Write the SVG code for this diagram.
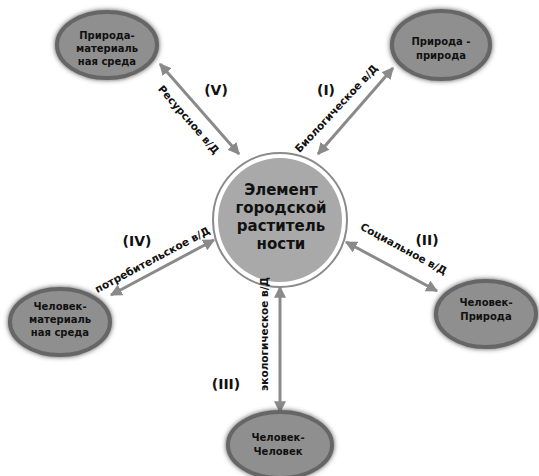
<svg xmlns="http://www.w3.org/2000/svg" width="539" height="476" viewBox="0 0 539 476">
<defs>
<filter id="glow" x="-30%" y="-30%" width="160%" height="160%">
<feGaussianBlur in="SourceAlpha" stdDeviation="2.5" result="b"/>
<feFlood flood-color="#404040" flood-opacity="0.9"/>
<feComposite in2="b" operator="in" result="s"/>
<feMerge><feMergeNode in="s"/><feMergeNode in="SourceGraphic"/></feMerge>
</filter>
<marker id="ah" viewBox="0 0 10 10" refX="9" refY="5" markerWidth="4" markerHeight="4" orient="auto-start-reverse" markerUnits="strokeWidth">
<path d="M0,0 L10,5 L0,10 z" fill="#8a8a8a"/>
</marker>
<style>
.node ellipse{fill:#8f8f8f;stroke:#666;stroke-width:4;filter:url(#glow)}
.nt{font-family:"DejaVu Sans",sans-serif;font-weight:bold;font-size:10px;fill:#111;text-anchor:middle}
.ct{font-family:"DejaVu Sans",sans-serif;font-weight:bold;font-size:15px;fill:#111;text-anchor:middle}
.conn line{stroke:#8a8a8a;stroke-width:3;marker-start:url(#ah);marker-end:url(#ah)}
.lb{font-family:"DejaVu Sans",sans-serif;font-weight:bold;font-size:10.5px;fill:#111;text-anchor:middle}
.rn{font-family:"DejaVu Sans",sans-serif;font-weight:bold;font-size:14px;fill:#111;text-anchor:middle}
</style>
</defs>
<rect width="539" height="476" fill="#fff"/>
<g id="connectors" class="conn">
<line x1="160" y1="64" x2="239" y2="154"/>
<line x1="318" y1="154" x2="393" y2="68"/>
<line x1="346" y1="242" x2="437" y2="291"/>
<line x1="214" y1="240" x2="111" y2="295"/>
<line x1="280" y1="287" x2="280" y2="412"/>
</g>
<g id="center">
<circle cx="280" cy="220" r="67" fill="#fff" stroke="#8a8a8a" stroke-width="2"/>
<circle cx="280" cy="220" r="62" fill="#a9a9a9"/>
<text class="ct" x="281" y="195">Элемент</text>
<text class="ct" x="281" y="213">городской</text>
<text class="ct" x="281" y="231">раститель</text>
<text class="ct" x="281" y="249">ности</text>
</g>
<g id="n5" class="node">
<ellipse cx="107" cy="45" rx="50" ry="33"/>
<text class="nt" x="107" y="39">Природа-</text>
<text class="nt" x="107" y="52">материаль</text>
<text class="nt" x="107" y="65">ная среда</text>
</g>
<g id="n1" class="node">
<ellipse cx="441" cy="45" rx="49" ry="34"/>
<text class="nt" x="441" y="45">Природа -</text>
<text class="nt" x="441" y="59">природа</text>
</g>
<g id="n4" class="node">
<ellipse cx="60" cy="322" rx="50" ry="33"/>
<text class="nt" x="60" y="310">Человек-</text>
<text class="nt" x="60" y="323">материаль</text>
<text class="nt" x="60" y="336">ная среда</text>
</g>
<g id="n2" class="node">
<ellipse cx="486" cy="314" rx="50" ry="33"/>
<text class="nt" x="486" y="306">Человек-</text>
<text class="nt" x="486" y="320">Природа</text>
</g>
<g id="n3" class="node">
<ellipse cx="280" cy="445" rx="52" ry="33"/>
<text class="nt" x="278" y="441">Человек-</text>
<text class="nt" x="278" y="455">Человек</text>
</g>
<g id="labels">
<text class="rn" x="216" y="95">(V)</text>
<text class="rn" x="326" y="95">(I)</text>
<text class="rn" x="137" y="246">(IV)</text>
<text class="rn" x="427" y="245">(II)</text>
<text class="rn" x="226" y="389">(III)</text>
<text class="lb" transform="translate(186,122) rotate(49)">Ресурсное в/Д</text>
<text class="lb" transform="translate(339,111) rotate(-47)">Биологическое в/Д</text>
<text class="lb" transform="translate(402,252) rotate(28.5)">Социальное в/Д</text>
<text class="lb" transform="translate(154,263) rotate(-28)">потребительское в/Д</text>
<text class="lb" transform="translate(268,334) rotate(-90)">экологическое в/Д</text>
</g>
</svg>
